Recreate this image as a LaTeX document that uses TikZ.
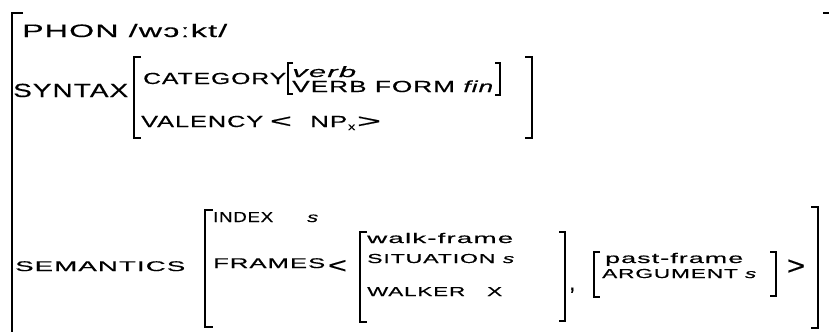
\documentclass[tikz,border=0pt]{standalone}
\usepackage{fontspec}
\setmainfont{Liberation Sans}[LetterSpace=4,FakeBold=0.4]
\usepackage{graphicx}
% text stretched to a given width (pt) at a given size (pt)
\newcommand\wt[3]{\resizebox{#1pt}{\height}{\fontsize{#2}{#2}\selectfont #3}}
% square brackets: x, top, bottom, tick length
\newcommand\lbr[4]{\draw[brk] ({#1+#4},#2) -- (#1,#2) -- (#1,#3) -- ({#1+#4},#3);}
\newcommand\rbr[4]{\draw[brk] ({#1-#4},#2) -- (#1,#2) -- (#1,#3) -- ({#1-#4},#3);}
\begin{document}
\begin{tikzpicture}[x=1pt,y=-1pt,
  brk/.style={line width=1.4pt,black},
  txt/.style={inner sep=0pt,anchor=base west,text=black},
  sym/.style={inner sep=0pt,anchor=center,text=black}]
\fill[white] (0,0) rectangle (829,332);
\useasboundingbox (0,0) rectangle (829,332);

% outer structure
\draw[brk] (23,13) -- (12,13) -- (12,332);
\draw[brk] (823,13) -- (829,13);

% PHON
\node[txt] (phon) at (22,37) {\wt{205}{18}{PHON /wɔːkt/}};

% SYNTAX
\node[txt] (syn) at (13,97) {\wt{115}{19}{SYNTAX}};
\lbr{134}{57}{138}{7}
\rbr{532}{57}{138}{7}
\node[txt] (cat) at (143,84) {\wt{143}{16}{CATEGORY}};
\lbr{288}{63}{94}{5}
\node[txt] (verb) at (292,77) {\wt{64}{15}{\itshape verb}};
\node[txt] (vform) at (292,92) {\wt{202}{16}{VERB FORM \textit{fin}}};
\rbr{500}{63}{95}{5}
\node[txt] (val) at (141,127) {\wt{122}{16}{VALENCY}};
\node[sym] (vlt) at (281,122) {\resizebox{22pt}{11pt}{<}};
\node[txt] (np) at (310,127) {\wt{37}{16}{NP}};
\node[txt] (npx) at (348,130) {\wt{7}{10}{x}};
\node[sym] (vgt) at (369,122) {\resizebox{24pt}{11pt}{>}};

% SEMANTICS
\node[txt] (sem) at (15,271) {\wt{170}{14}{SEMANTICS}};
\lbr{205}{210}{327}{8}
\rbr{818}{207}{328}{7}
\node[txt] (idx) at (213,222) {\wt{60}{14.5}{INDEX}};
\node[txt] (idxs) at (307,222) {\wt{11}{14}{\itshape s}};
\node[txt] (frm) at (213,268) {\wt{112}{14}{FRAMES}};
\node[sym] (flt) at (337.5,266.5) {\resizebox{19pt}{13pt}{<}};

% walk-frame
\lbr{360}{232}{322}{7}
\rbr{565}{232}{321}{6}
\node[txt] (wf) at (367,243) {\wt{146}{14}{walk-frame}};
\node[txt] (sit) at (367,263) {\wt{148}{13}{SITUATION \textit{s}}};
\node[txt] (wlk) at (367,296) {\wt{98}{13}{WALKER}};
\node[txt] (wlkx) at (487,296) {\wt{15}{13}{X}};
\node[txt] (comma) at (569,290) {\fontsize{22}{22}\selectfont ,};

% past-frame
\lbr{594}{252}{297}{6}
\rbr{776}{252}{296}{6}
\node[txt] (pf) at (605,263) {\wt{138}{14}{past-frame}};
\node[txt] (arg) at (602,278) {\wt{155}{13}{ARGUMENT \textit{s}}};
\node[sym] (fgt) at (796,267) {\resizebox{18pt}{15pt}{>}};
\end{tikzpicture}
\end{document}
